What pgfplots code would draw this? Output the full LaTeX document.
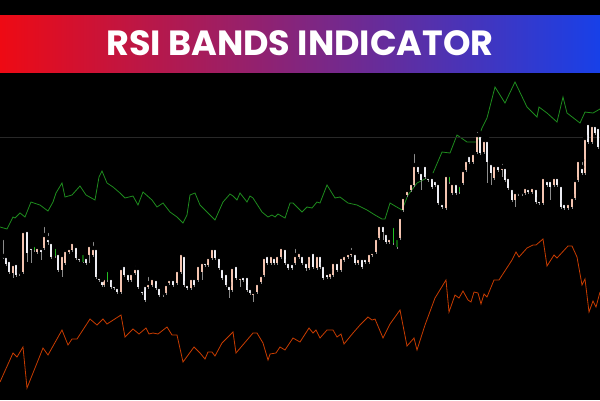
\documentclass[border=0pt]{standalone}
\usepackage{pgfplots}
\usepackage{pgfplotstable}
\usepackage{fontspec}
\pgfplotsset{compat=1.18}
\newfontfamily\titlefont{Poppins}

\definecolor{upcol}{HTML}{F4C4B0}
\definecolor{dncol}{HTML}{EEEEF4}
\definecolor{wick}{HTML}{8C8C8C}
\definecolor{gcan}{HTML}{22C022}
\definecolor{dgcan}{HTML}{0B5E0B}
\definecolor{upband}{HTML}{1E8C1E}
\definecolor{loband}{HTML}{C83C00}
\definecolor{bandred}{HTML}{EE0A14}
\definecolor{bandblue}{HTML}{1840E8}

% candles in picture coordinates (y grows downwards)
% k: 0 down (white), 1 up (salmon), 2 green bar, 3 dark green
\pgfplotstableread{
x o c h l k
3 256 258 238 259 0
6 256 264 254 266 0
9 260 272 258 274 0
13 273 264 262 278 1
16 263 275 261 277 0
19 272 274 270 276 0
23 272 231 229 274 1
27 230 253 228 262 0
31 247 250 245 263 0
34 250 245 244 252 2
37 252 247 245 254 1
41 248 252 246 260 0
44 248 235 225 250 1
48 238 242 231 245 0
51 242 257 240 259 0
55 247 256 245 258 2
58 253 270 251 272 0
62 270 255 253 277 1
65 263 250 248 265 1
69 252 248 246 254 1
72 250 242 240 252 1
76 246 258 244 260 0
79 257 260 255 262 0
83 253 262 251 263 3
86 257 263 255 265 0
89 255 245 243 263 1
93 255 248 240 257 1
96 248 277 246 279 0
99 277 280 275 282 0
102 280 285 278 287 0
104 285 278 276 287 1
107 270 280 268 282 2
111 278 287 276 289 0
114 285 288 283 290 0
117 287 292 285 294 0
121 292 268 266 294 1
124 265 275 263 277 0
128 273 280 271 282 0
131 280 273 271 282 1
135 273 268 264 275 1
138 268 287 266 289 0
142 290 293 288 295 0
145 285 300 283 302 0
148 287 283 275 289 1
152 285 278 276 287 1
156 279 288 277 290 0
159 287 295 285 297 0
163 293 295 291 297 0
166 293 284 282 295 1
169 283 279 277 285 1
173 279 285 277 287 0
177 283 270 268 285 1
181 272 253 251 274 1
184 255 285 253 287 0
187 284 288 282 290 0
191 288 278 276 290 1
194 278 285 276 287 0
198 280 265 263 282 1
202 272 262 260 280 1
205 262 265 260 267 0
208 265 257 255 267 1
212 258 248 246 260 1
215 248 258 245 260 0
219 257 268 255 270 0
222 268 278 266 280 0
226 273 285 271 287 0
229 285 290 283 298 0
232 290 267 265 292 1
236 265 278 263 280 0
240 280 277 275 287 1
243 276 280 274 282 0
247 276 290 274 292 0
250 288 293 286 295 0
253 295 292 290 302 1
257 292 283 281 294 1
261 282 275 273 284 1
264 275 257 255 277 1
267 255 263 253 265 0
271 263 255 253 265 1
274 257 263 255 265 0
277 263 255 253 265 1
281 257 247 245 259 1
285 248 263 246 265 0
288 262 268 260 270 0
292 263 268 261 270 0
295 263 255 247 265 1
299 257 252 250 259 1
302 255 263 253 265 0
306 262 268 260 271 0
309 268 255 253 270 1
313 252 267 250 269 0
317 268 255 253 270 1
320 255 267 253 269 0
323 265 278 263 280 0
327 273 277 271 279 0
330 277 272 270 279 1
333 275 262 260 277 1
337 262 270 260 272 0
341 270 257 255 272 1
344 260 255 253 262 1
348 257 253 251 259 1
351 255 252 246 257 1
355 253 263 251 265 0
358 263 258 256 265 1
362 258 267 256 269 0
365 258 262 256 264 0
369 262 253 251 264 1
372 255 252 250 257 1
376 252 238 236 254 1
379 238 225 223 240 1
383 225 232 223 240 0
386 233 242 231 244 0
389 242 238 236 244 1
393 226 243 224 245 2
397 238 247 236 249 3
400 238 217 215 240 1
403 210 197 195 212 1
407 195 190 188 197 1
411 190 183 181 192 1
414 185 165 152 187 1
418 165 172 163 174 0
421 172 180 170 190 0
425 165 177 163 179 0
428 177 180 175 182 0
432 177 187 175 189 0
435 180 185 178 187 0
438 183 203 181 205 0
442 203 207 201 209 0
446 208 175 173 210 1
449 175 182 173 184 2
452 193 183 181 195 1
456 183 193 181 195 0
459 185 192 183 194 2
463 183 170 168 185 1
466 170 160 158 172 1
469 155 162 153 164 0
473 162 153 151 164 1
477 152 135 130 154 1
480 135 153 133 155 0
484 152 140 138 154 1
487 140 162 138 183 0
491 163 173 161 185 0
494 178 165 163 180 1
498 165 170 163 172 0
502 170 167 162 177 1
505 167 180 165 182 0
508 177 188 175 190 0
512 188 200 186 202 0
515 200 192 190 207 1
518 192 194 190 196 0
522 192 194 190 196 0
525 193 187 185 195 1
528 188 192 186 194 0
532 192 187 185 194 1
536 188 202 186 204 0
539 200 203 198 205 0
543 203 177 175 205 1
547 180 185 178 187 0
550 180 187 178 200 0
554 185 177 175 187 1
557 177 185 175 187 0
561 185 207 183 209 0
564 203 208 201 210 0
568 208 203 201 210 1
572 207 197 195 209 1
575 198 180 178 200 1
578 180 160 158 182 1
582 167 173 160 175 0
585 173 138 136 175 1
588 123 142 120 144 0
592 142 125 122 144 1
595 125 133 123 135 0
598 127 147 125 149 0
}\candles

\pgfplotsset{
  body/.style 2 args={only marks, mark=none, unbounded coords=discard,
    error bars/.cd, y dir=plus, y explicit, error mark=none,
    error bar style={line width=#2, color=#1}},
}

\begin{document}
\begin{tikzpicture}
\begin{axis}[
  width=600pt, height=400pt, scale only axis,
  xmin=0, xmax=600, ymin=0, ymax=400, y dir=reverse,
  hide axis, clip=true,
]
\fill[black] (axis cs:0,0) rectangle (axis cs:600,400);

% upper RSI band
\addplot[upband, line width=0.8pt] coordinates {
(0,227) (7,229) (13,217) (15,218) (20,213) (25,217) (31,202) (40,205) (48,211)
(53,202) (56,193) (62,183) (65,197) (72,195) (80,186) (86,195) (95,200)
(99,177) (102,171) (107,183) (113,187) (120,193) (125,198) (133,196)
(138,205) (143,192) (152,200) (157,207) (163,203) (170,212) (177,217)
(183,223) (187,215) (190,195) (195,193) (200,205) (207,212) (215,220)
(223,202) (230,194) (233,196) (237,200) (240,193) (247,202) (250,196)
(253,198) (262,212) (268,217) (272,215) (275,217) (278,214) (285,218)
(290,203) (293,203) (302,212) (307,207) (312,208) (317,202) (320,203)
(327,185) (335,198) (340,197) (348,203) (357,205) (367,210) (375,215)
(382,219) (385,219) (390,203) (395,206) (402,210) (408,195) (417,183)
(427,178) (433,173) (442,152) (450,153) (457,135) (467,142) (477,142)
(482,128) (487,118) (495,87) (505,103) (515,82) (527,107) (537,117)
(539,107) (547,113) (557,122) (563,97) (567,113) (580,123) (585,112)
(593,113) (600,109)
};

% lower RSI band
\addplot[loband, line width=0.8pt] coordinates {
(0,382) (13,353) (17,357) (23,347) (27,388) (43,348) (48,355) (62,330)
(68,345) (72,339) (77,339) (90,319) (97,325) (103,319) (107,324) (121,315)
(125,337) (133,329) (139,334) (146,328) (149,334) (153,333) (158,334)
(167,327) (172,335) (177,335) (183,362) (194,347) (200,353) (205,359)
(208,352) (212,352) (215,356) (222,343) (233,332) (236,353) (253,333)
(257,333) (263,343) (268,360) (270,354) (276,353) (280,347) (285,350)
(293,338) (300,342) (309,328) (313,333) (316,330) (320,338) (327,330)
(333,330) (337,337) (341,334) (344,344) (353,333) (360,325) (368,317)
(372,320) (375,319) (383,338) (390,324) (400,310) (407,346) (414,338)
(417,350) (425,325) (435,298) (446,280) (449,312) (455,295) (459,298)
(463,291) (468,300) (471,302) (474,292) (478,293) (481,304) (484,294)
(487,297) (494,280) (499,280) (512,260) (516,252) (519,257) (527,248)
(533,245) (536,245) (543,239) (547,266) (554,255) (557,258) (568,246)
(572,246) (577,257) (582,285) (585,279) (589,312) (593,301) (596,307)
(600,292)
};

% level line
\addplot[black!65!white!45!black, line width=0.8pt] coordinates {(0,137.5) (600,137.5)};

% wicks
\addplot[only marks, mark=none, error bars/.cd, y dir=plus, y explicit,
  error mark=none, error bar style={line width=0.9pt, color=wick}]
  table[x=x, y=h, y error plus expr={\thisrow{l}-\thisrow{h}}] {\candles};

% bodies
\addplot[body={dncol}{2.8pt}] table[x=x,
  y expr={\thisrow{k}==0 ? min(\thisrow{o},\thisrow{c}) : nan},
  y error plus expr={abs(\thisrow{o}-\thisrow{c})}] {\candles};
\addplot[body={upcol}{2.8pt}] table[x=x,
  y expr={\thisrow{k}==1 ? min(\thisrow{o},\thisrow{c}) : nan},
  y error plus expr={abs(\thisrow{o}-\thisrow{c})}] {\candles};
\addplot[body={gcan}{1pt}] table[x=x,
  y expr={\thisrow{k}==2 ? min(\thisrow{o},\thisrow{c}) : nan},
  y error plus expr={abs(\thisrow{o}-\thisrow{c})}] {\candles};
\addplot[body={dgcan}{2.8pt}] table[x=x,
  y expr={\thisrow{k}==3 ? min(\thisrow{o},\thisrow{c}) : nan},
  y error plus expr={abs(\thisrow{o}-\thisrow{c})}] {\candles};

% title banner
\fill[left color=bandred, right color=bandblue] (axis cs:0,15) rectangle (axis cs:600,72);
\node[white, anchor=center, inner sep=0pt] at (axis cs:300,43.5)
  {\titlefont\bfseries\fontsize{35}{40}\selectfont RSI BANDS INDICATOR};
\end{axis}
\end{tikzpicture}
\end{document}
